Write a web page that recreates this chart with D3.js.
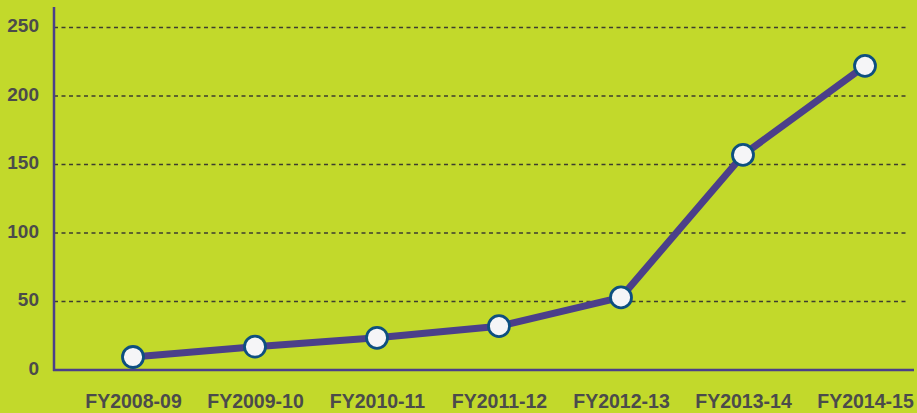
<!DOCTYPE html>
<html><head><meta charset="utf-8">
<script src="https://cdn.jsdelivr.net/npm/d3@7"></script>
<style>html,body{margin:0;padding:0;background:#c2d92b;}svg{display:block;}</style>
</head><body>
<svg id="chart" width="917" height="413"></svg>
<script>
const categories = ["FY2008-09","FY2009-10","FY2010-11","FY2011-12","FY2012-13","FY2013-14","FY2014-15"];
const values = [9.5, 17, 23.5, 32, 53, 157, 222];
const yTicks = [0, 50, 100, 150, 200, 250];

const svg = d3.select("#chart");
svg.append("rect").attr("width",917).attr("height",413).attr("fill","#c2d92b");
const x = d3.scalePoint().domain(categories).range([133, 865]);
const y = d3.scaleLinear().domain([0, 250]).range([370, 27.5]);
const axisX0 = 54;

// gridlines
svg.append("g").selectAll("line").data(yTicks.filter(d=>d>0)).join("line")
  .attr("x1", axisX0).attr("x2", 909)
  .attr("y1", d=>y(d)).attr("y2", d=>y(d))
  .attr("stroke","#3d3d30").attr("stroke-width",1.4).attr("stroke-dasharray","4,3.5");

// y axis labels
const yAxis = d3.axisLeft(y).tickValues(yTicks).tickSize(0).tickPadding(0).tickFormat(d3.format("d"));
const gy = svg.append("g").attr("transform","translate(39,-2)").call(yAxis);
gy.select(".domain").remove();
gy.selectAll("text").attr("font-family","'Liberation Sans', Arial, sans-serif").attr("font-weight","bold")
  .attr("font-size",19).attr("fill","#4b4b4b");

// x axis labels
const xAxis = d3.axisBottom(x).tickSize(0).tickPadding(0);
const gx = svg.append("g").attr("transform","translate(0,394)").call(xAxis);
gx.select(".domain").remove();
gx.selectAll("text").attr("font-family","'Liberation Sans', Arial, sans-serif").attr("font-weight","bold")
  .attr("font-size",19.5).attr("fill","#4b4b4b");

// axes lines
svg.append("line").attr("x1",axisX0).attr("x2",axisX0).attr("y1",7).attr("y2",371)
  .attr("stroke","#4b3f8a").attr("stroke-width",2.5);
svg.append("line").attr("x1",axisX0-1).attr("x2",914).attr("y1",370).attr("y2",370)
  .attr("stroke","#4b3f8a").attr("stroke-width",2.5);

// line
const line = d3.line().x((d,i)=>x(categories[i])).y(d=>y(d));
svg.append("path").datum(values).attr("d",line).attr("fill","none")
  .attr("stroke","#4b3f8a").attr("stroke-width",7).attr("stroke-linejoin","round");

svg.append("g").selectAll("circle").data(values).join("circle")
  .attr("cx",(d,i)=>x(categories[i])).attr("cy",d=>y(d)).attr("r",10.5)
  .attr("fill","#f5f5f7").attr("stroke","#0d4f80").attr("stroke-width",2.8);
</script>
</body></html>
